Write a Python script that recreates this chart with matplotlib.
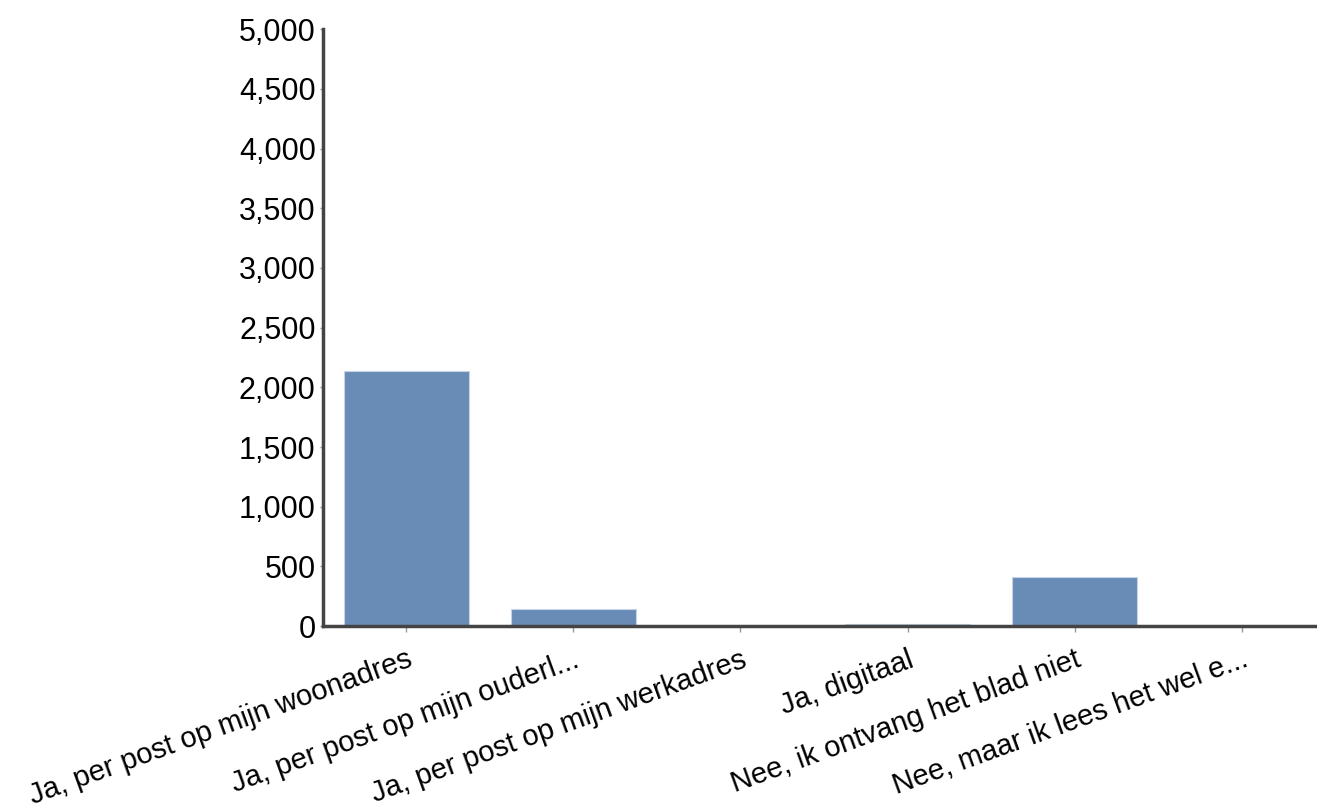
import matplotlib.pyplot as plt
from matplotlib.ticker import FuncFormatter

categories = [
    "Ja, per post op mijn woonadres",
    "Ja, per post op mijn ouderl...",
    "Ja, per post op mijn werkadres",
    "Ja, digitaal",
    "Nee, ik ontvang het blad niet",
    "Nee, maar ik lees het wel e...",
]
counts = [2140, 140, 0, 20, 410, 0]

plt.rcParams['font.family'] = ['Liberation Sans', 'DejaVu Sans']

fig = plt.figure(figsize=(13.17, 8.11), dpi=100)
ax = fig.add_axes([0.245, 0.228, 0.755, 0.736])

x = range(len(categories))
ax.bar(x, counts, width=0.75, color='#698cb7', edgecolor='#c5d3e4', linewidth=0.8)

ax.set_xlim(-0.5, 5.45)
ax.set_ylim(0, 5000)
ax.set_yticks(range(0, 5001, 500))
ax.yaxis.set_major_formatter(FuncFormatter(lambda v, p: f"{int(v):,}"))
ax.set_xticks(list(x))
ax.set_xticklabels(categories, rotation=20, ha='right', rotation_mode='anchor')

for s in ['top', 'right']:
    ax.spines[s].set_visible(False)
for s in ['left', 'bottom']:
    ax.spines[s].set_color('#444444')
    ax.spines[s].set_linewidth(2.5)

ax.tick_params(axis='both', colors='#999999', labelcolor='black',
               length=4, width=1)
ax.tick_params(axis='y', labelsize=22, pad=3, length=2)
ax.tick_params(axis='x', labelsize=21, pad=10)

fig.savefig('out.png', dpi=100)
